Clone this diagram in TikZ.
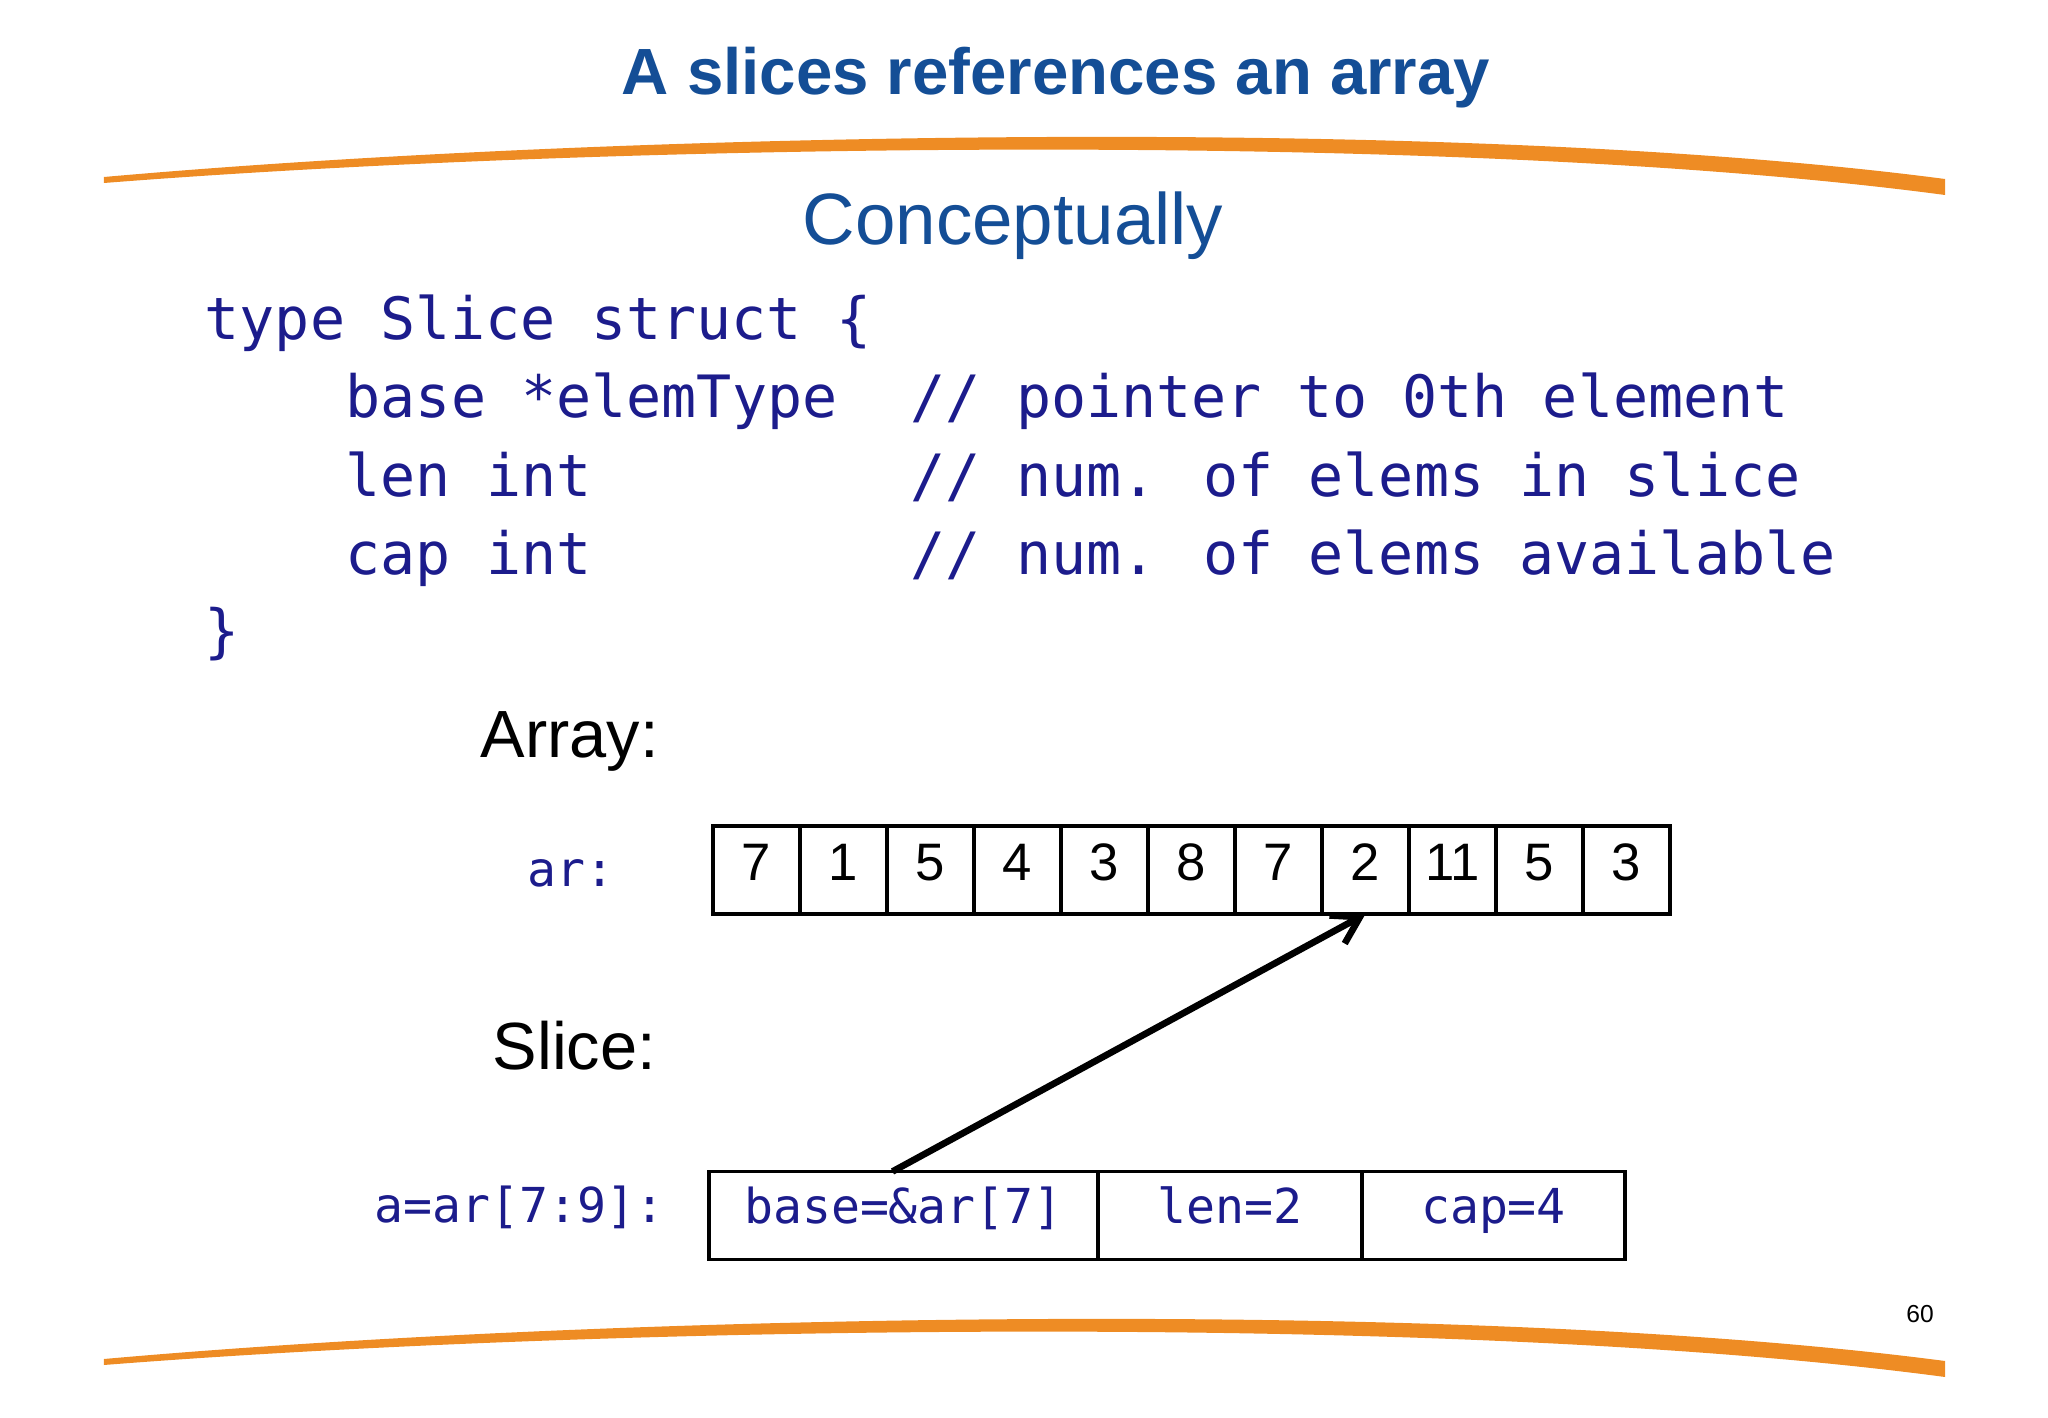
\documentclass[tikz,border=0pt]{standalone}
\usepackage{fontspec}
\setmainfont{Liberation Sans}
\newfontfamily\codefont{DejaVu Sans Mono}
\usetikzlibrary{arrows.meta}
\definecolor{titleblue}{RGB}{20,78,150}
\definecolor{codenavy}{RGB}{28,28,140}
\definecolor{swoosh}{RGB}{238,140,36}

\begin{document}
\begin{tikzpicture}[every node/.style={inner sep=0pt},
	codeline/.style={anchor=base west, text=codenavy, font=\codefont\fontsize{16.6pt}{20pt}\selectfont},
	codesmall/.style={anchor=base west, text=codenavy, font=\codefont\fontsize{13.7pt}{16pt}\selectfont},
	tagtext/.style={anchor=base west, font=\fontsize{19pt}{23pt}\selectfont},
	cell/.style={draw, line width=0.9pt, outer sep=0pt, minimum width=0.87cm, minimum height=0.88cm, text height=0.4cm, text depth=0.18cm, font=\fontsize{15pt}{18pt}\selectfont},
	field/.style={draw, line width=0.9pt, outer sep=0pt, minimum height=0.88cm, text height=0.37cm, text depth=0.2cm, text=codenavy, font=\codefont\fontsize{13.7pt}{16pt}\selectfont},
	>={Straight Barb[length=2.6mm, width=3.2mm]}]
	\useasboundingbox (0,0) rectangle (20.48,-14.18);
	% orange swooshes, top and bottom
	\foreach \dy in {0,-11.82}
		\fill[swoosh, yshift=\dy cm] (1.04,-1.77) .. controls (6,-1.33) and (14.5,-1.14) .. (19.45,-1.79) -- (19.45,-1.95) .. controls (14.5,-1.29) and (6,-1.44) .. (1.04,-1.83) -- cycle;
	\node[anchor=base, text=titleblue, font=\fontsize{18.6pt}{22pt}\selectfont\bfseries] (title) at (10.56,-0.95) {A slices references an array};
	\node[anchor=base, text=titleblue, font=\fontsize{20.7pt}{25pt}\selectfont] (subtitle) at (10.13,-2.45) {Conceptually};
	% struct definition
	\node[codeline] (c1) at (2.04,-3.40) {type Slice struct \{};
	\node[codeline] (c2) at (3.45,-4.18) {base *elemType};
	\node[codeline] (c2r) at (9.10,-4.18) {// pointer to 0th element};
	\node[codeline] (c3) at (3.45,-4.97) {len int};
	\node[codeline] (c3r) at (9.10,-4.97) {// num. of elems in slice};
	\node[codeline] (c4) at (3.45,-5.75) {cap int};
	\node[codeline] (c4r) at (9.10,-5.75) {// num. of elems available};
	\node[codeline] (c5) at (2.04,-6.52) {\}};
	% array
	\node[tagtext] (arraylbl) at (4.80,-7.58) {Array:};
	\node[codesmall] (arlbl) at (5.27,-8.87) {ar:};
	\foreach \v [count=\i from 0] in {7,1,5,4,3,8,7,2,11,5,3}
		\node[cell] (ar\i) at ({7.565+0.87*\i},-8.70) {\v};
	% slice header
	\node[tagtext] (slicelbl) at (4.92,-10.70) {Slice:};
	\node[codesmall] (slicevar) at (3.74,-12.23) {a=ar[7:9]:};
	\node[field, minimum width=3.89cm] (slbase) at (9.035,-12.155) {base=\&ar[7]};
	\node[field, minimum width=2.64cm, anchor=west] (sllen) at (slbase.east) {len=2};
	\node[field, minimum width=2.63cm, anchor=west] (slcap) at (sllen.east) {cap=4};
	\draw[->, line width=1.9pt] ([xshift=-0.11cm]slbase.north) -- (ar7.south);
	\node[font=\fontsize{7pt}{8pt}\selectfont] (pagenum) at (19.20,-13.14) {60};
\end{tikzpicture}
\end{document}
